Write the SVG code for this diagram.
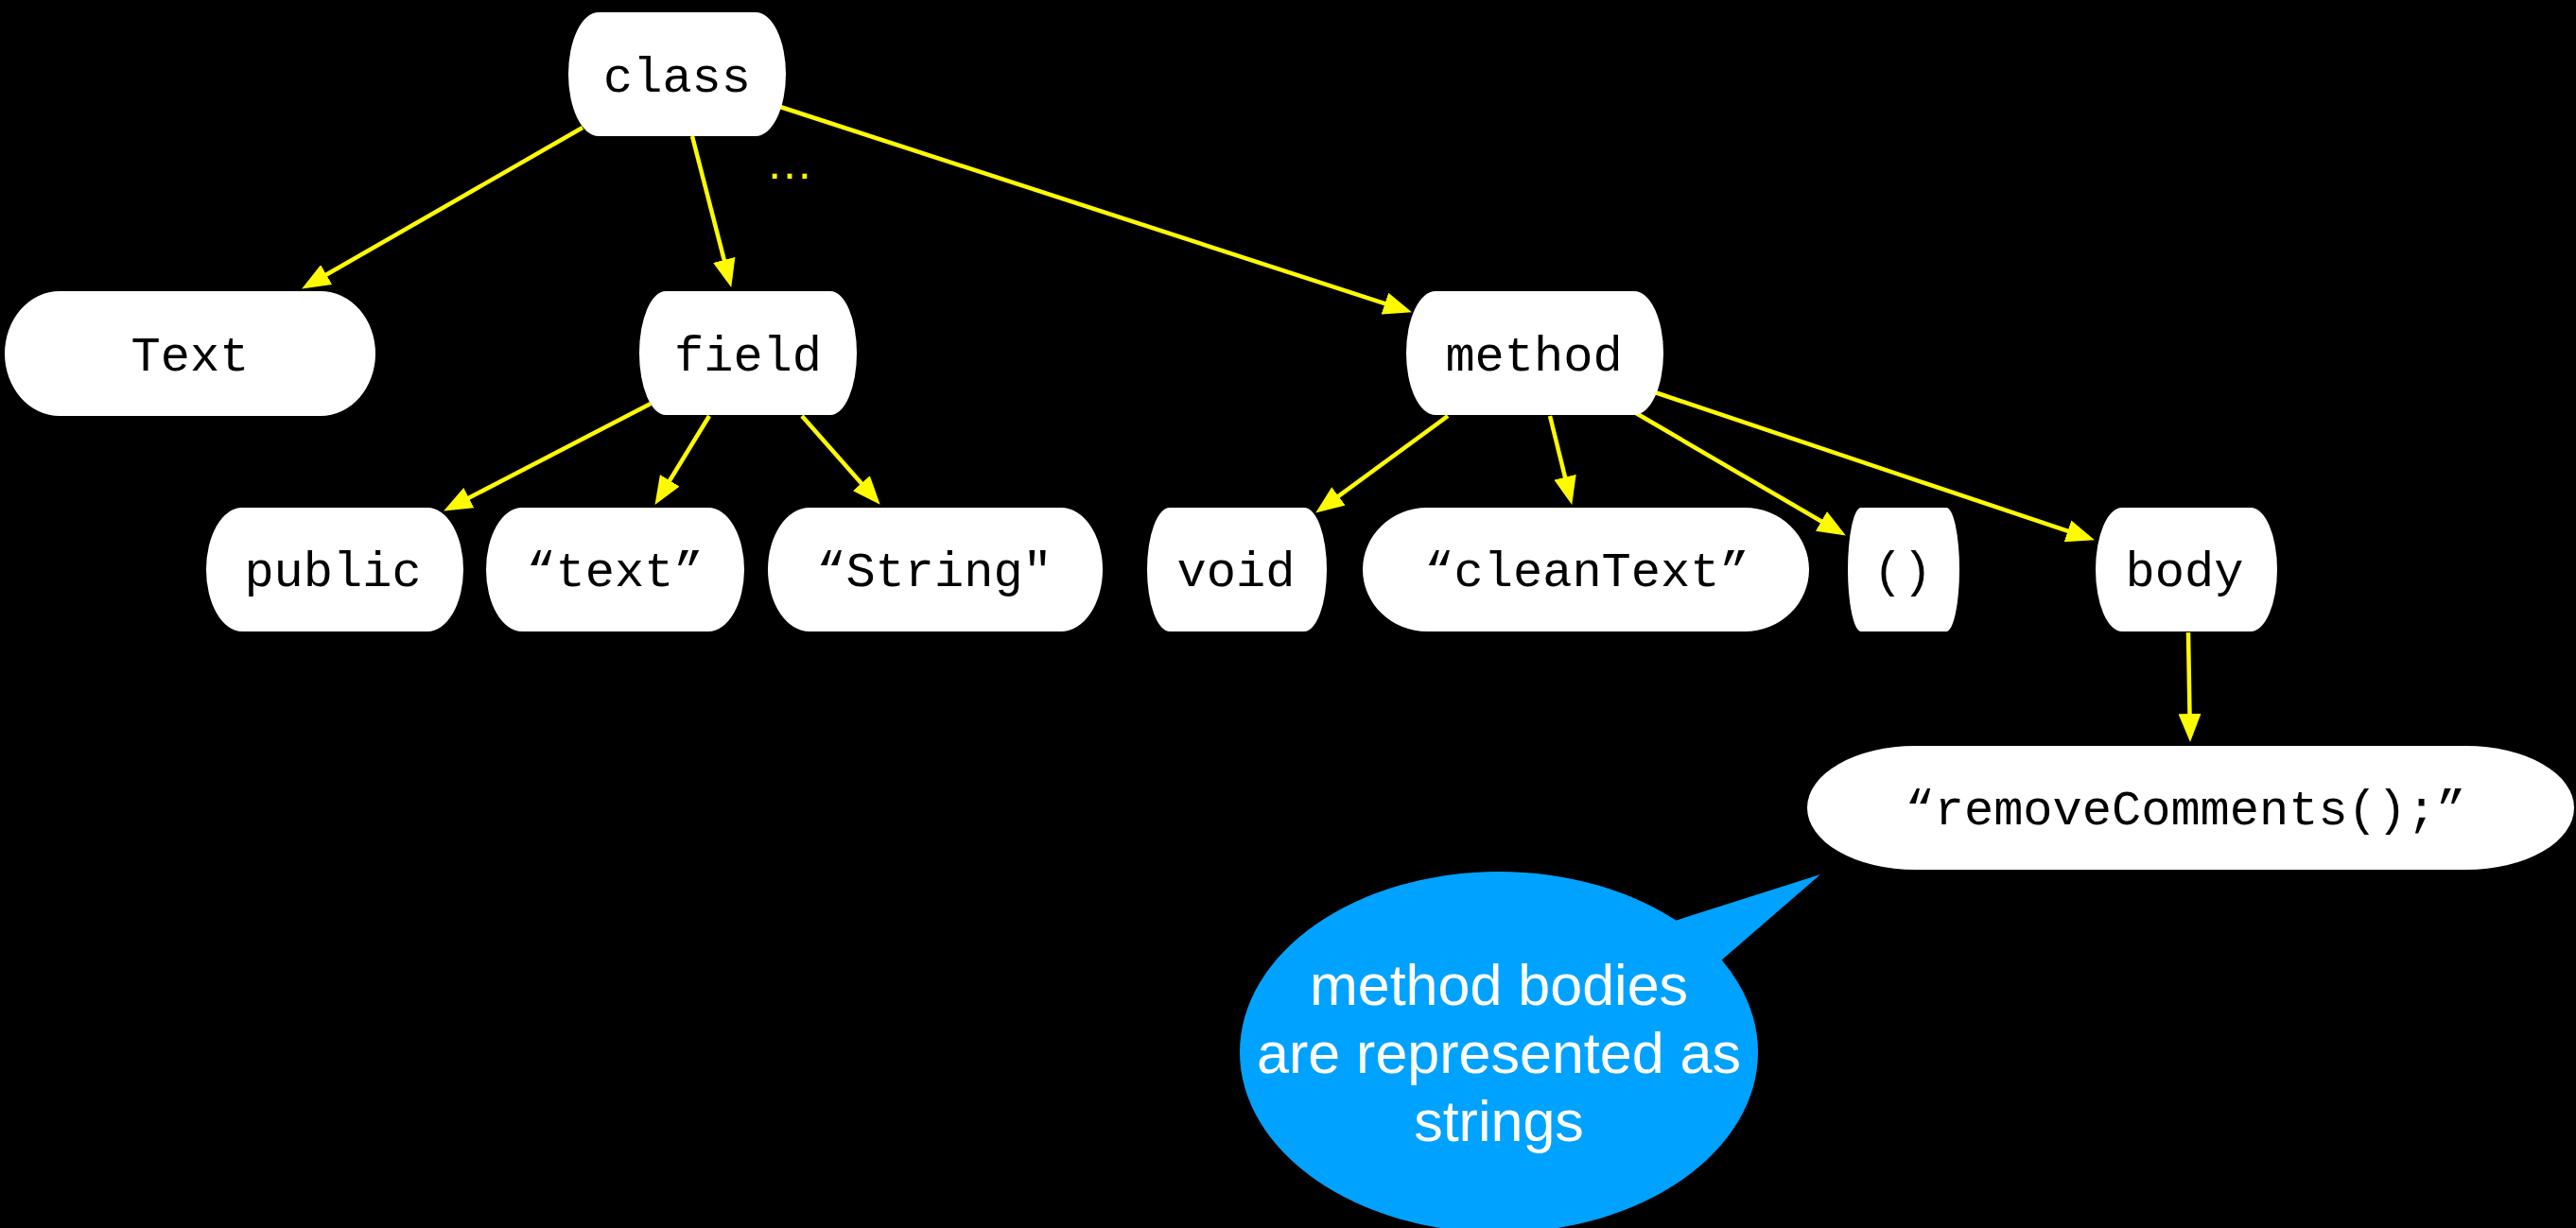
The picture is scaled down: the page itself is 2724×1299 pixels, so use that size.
<svg xmlns="http://www.w3.org/2000/svg" width="2724" height="1299" viewBox="0 0 2724 1299">
  <defs>
    <style>
      .node rect { fill: #ffffff; }
      .node text { font-family: "Liberation Mono", "Courier New", monospace; font-size: 52px; fill: #000000; text-anchor: middle; }
      .edge { stroke: #FEFB00; stroke-width: 4.5; fill: none; marker-end: url(#arrow); }
      .note text { font-family: "Liberation Sans", Arial, Helvetica, sans-serif; font-size: 61px; fill: #ffffff; text-anchor: middle; }
    </style>
    <marker id="arrow" viewBox="0 0 30 24" markerWidth="30" markerHeight="24" refX="17" refY="12" orient="auto" markerUnits="userSpaceOnUse">
      <path d="M0,0 L30,12 L0,24 Z" fill="#FEFB00"/>
    </marker>
  </defs>

  <rect x="0" y="0" width="2724" height="1299" fill="#000000"/>

  <!-- connectors -->
  <g id="connectors">
    <line class="edge" x1="616" y1="135" x2="330.4" y2="299"/>
    <line class="edge" x1="732" y1="144" x2="770" y2="291.4"/>
    <line class="edge" x1="825" y1="113" x2="1480.6" y2="326.3"/>
    <line class="edge" x1="688" y1="427" x2="480.7" y2="534.5"/>
    <line class="edge" x1="750" y1="440" x2="699.3" y2="522.8"/>
    <line class="edge" x1="848" y1="440" x2="922.1" y2="524"/>
    <line class="edge" x1="1531" y1="440" x2="1401.7" y2="534.9"/>
    <line class="edge" x1="1639" y1="440" x2="1659.1" y2="521.3"/>
    <line class="edge" x1="1730" y1="437" x2="1940.6" y2="560"/>
    <line class="edge" x1="1750" y1="415" x2="2202.6" y2="567.2"/>
    <line class="edge" x1="2314" y1="669" x2="2315.8" y2="772"/>
  </g>

  <!-- elided siblings of the class children -->
  <text id="ellipsis" x="810" y="189" font-family="Liberation Sans, Arial, sans-serif" font-size="50" fill="#FEFB00">…</text>

  <!-- tree nodes -->
  <g id="node-class" class="node">
    <rect x="601" y="13" width="230" height="131" rx="32" ry="65.5"/>
    <text x="716" y="97">class</text>
  </g>
  <g id="node-Text" class="node">
    <rect x="5" y="308" width="392" height="132" rx="58" ry="66"/>
    <text x="201" y="392">Text</text>
  </g>
  <g id="node-field" class="node">
    <rect x="676" y="308" width="230" height="131" rx="28" ry="65.5"/>
    <text x="791" y="392">field</text>
  </g>
  <g id="node-method" class="node">
    <rect x="1487" y="308" width="272" height="131" rx="31" ry="65.5"/>
    <text x="1622" y="392">method</text>
  </g>
  <g id="node-public" class="node">
    <rect x="218" y="537" width="272" height="131" rx="38" ry="65.5"/>
    <text x="352" y="620">public</text>
  </g>
  <g id="node-text" class="node">
    <rect x="514" y="537" width="273" height="131" rx="38" ry="65.5"/>
    <text x="650" y="620">“text”</text>
  </g>
  <g id="node-String" class="node">
    <rect x="812" y="537" width="354" height="131" rx="44" ry="65.5"/>
    <text x="988" y="620">“String"</text>
  </g>
  <g id="node-void" class="node">
    <rect x="1213" y="537" width="190" height="131" rx="24" ry="65.5"/>
    <text x="1307" y="620">void</text>
  </g>
  <g id="node-cleanText" class="node">
    <rect x="1441" y="537" width="472" height="131" rx="68" ry="65.5"/>
    <text x="1678" y="620">“cleanText”</text>
  </g>
  <g id="node-params" class="node">
    <rect x="1954" y="537" width="118" height="131" rx="14" ry="65.5"/>
    <text x="2012" y="620">()</text>
  </g>
  <g id="node-body" class="node">
    <rect x="2216" y="537" width="192" height="131" rx="28" ry="65.5"/>
    <text x="2310" y="620">body</text>
  </g>
  <g id="node-removeComments" class="node">
    <rect x="1911" y="789" width="811" height="131" rx="114" ry="65.5"/>
    <text x="2311" y="872">“removeComments();”</text>
  </g>

  <!-- speech bubble annotation -->
  <g id="note" class="note">
    <ellipse cx="1585" cy="1113" rx="274" ry="191" fill="#00A2FF"/>
    <polygon points="1768,975 1925,925 1820,1016 1760,1040" fill="#00A2FF"/>
    <text x="1585" y="1063">method bodies</text>
    <text x="1585" y="1135">are represented as</text>
    <text x="1585" y="1207">strings</text>
  </g>
</svg>
